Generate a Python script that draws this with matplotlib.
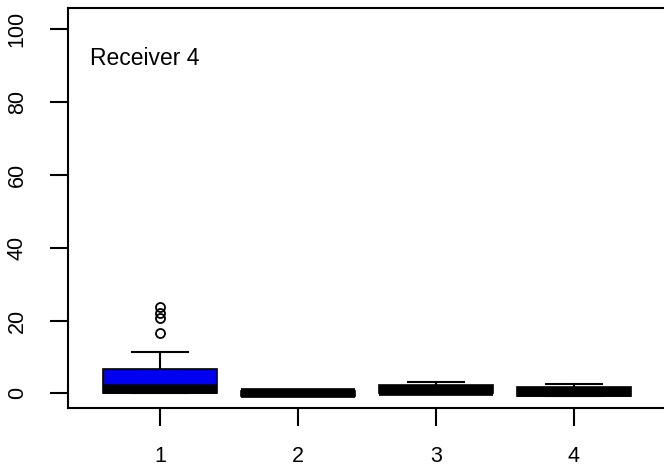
import matplotlib
matplotlib.use("Agg")
import matplotlib.pyplot as plt

plt.rcParams['font.family'] = ['Liberation Sans', 'DejaVu Sans']

# box statistics
labels = ['1', '2', '3', '4']
q1 = [0.0, -0.6, 0.0, -0.6]
med = [1.2, 0.0, 0.8, 0.5]
q3 = [6.7, 0.6, 2.3, 1.8]
whislo = [0.0, -0.6, 0.0, -0.6]
whishi = [11.4, 0.6, 3.2, 2.6]
fliers = [[16.6, 20.6, 22.2, 23.8], [], [], []]
fills = ['#0000f0', 'black', 'black', 'black']
title = 'Receiver 4'

stats = []
for i in range(4):
    stats.append(dict(label=labels[i], q1=q1[i], med=med[i], q3=q3[i],
                      whislo=whislo[i], whishi=whishi[i], fliers=fliers[i]))

fig = plt.figure(figsize=(6.64, 4.71), dpi=100)
ax = fig.add_axes([68/664, 1-408/471, 598/664, (408-7.5)/471])

bp = ax.bxp(stats, positions=[1, 2, 3, 4], widths=0.82, patch_artist=True,
            showfliers=True,
            boxprops=dict(edgecolor='black', linewidth=1.2),
            medianprops=dict(color='black', linewidth=7, solid_capstyle='butt'),
            whiskerprops=dict(color='black', linewidth=1.5, linestyle='-'),
            capprops=dict(color='black', linewidth=1.5),
            capwidths=0.41,
            flierprops=dict(marker='o', markerfacecolor='none',
                            markeredgecolor='black', markersize=6.5,
                            markeredgewidth=1.3))
for patch, c in zip(bp['boxes'], fills):
    patch.set_facecolor(c)

ax.set_xlim(0.333, 4.667)
ax.set_ylim(-4, 106)
ax.set_yticks([0, 20, 40, 60, 80, 100])
ax.set_xticks([1, 2, 3, 4])
ax.set_xticklabels(labels)
ax.tick_params(axis='both', length=13, width=1.5, labelsize=15.5)
ax.tick_params(axis='x', pad=14)
ax.tick_params(axis='y', pad=16)
for lab in ax.get_yticklabels():
    lab.set_rotation(90)
    lab.set_va('center')
ax.spines['right'].set_visible(False)
for s in ['left', 'top', 'bottom']:
    ax.spines[s].set_linewidth(1.5)

ax.text(0.49, 92, title, fontsize=16.5, ha='left', va='center')

fig.savefig('out.png', dpi=100)
